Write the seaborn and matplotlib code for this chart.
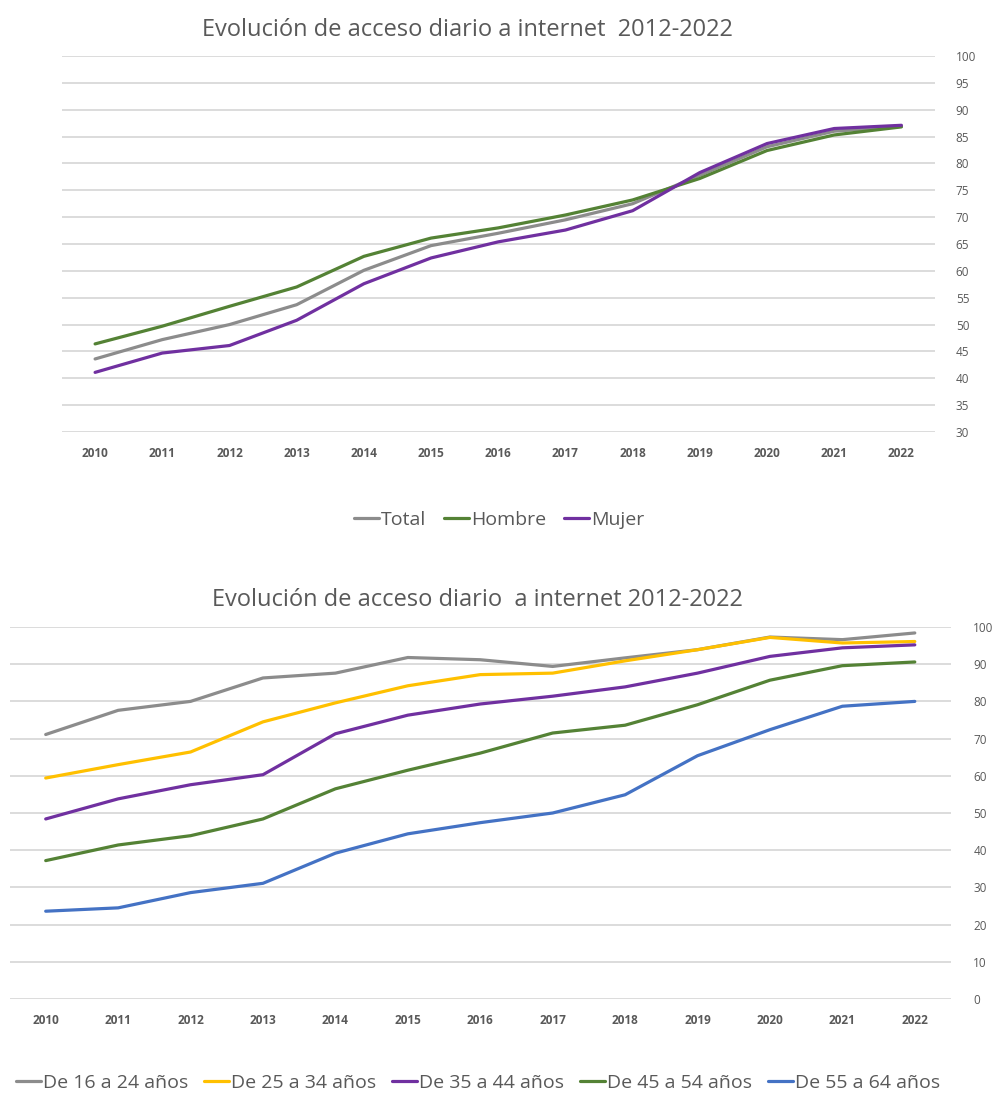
import pandas as pd
import numpy as np
import matplotlib
matplotlib.use("Agg")
import matplotlib.pyplot as plt
import seaborn as sns

# Values
years = list(range(2010, 2023))

total = [43.6, 47.2, 50.0, 53.7, 60.1, 64.7, 67.0, 69.5, 72.5, 77.8, 83.1, 86.0, 86.9]
hombre = [46.4, 49.7, 53.4, 57.0, 62.7, 66.1, 68.0, 70.4, 73.2, 77.2, 82.4, 85.3, 86.8]
mujer = [41.1, 44.7, 46.1, 50.8, 57.6, 62.4, 65.4, 67.6, 71.2, 78.3, 83.7, 86.5, 87.1]

edad_16_24 = [71.1, 77.6, 80.0, 86.3, 87.6, 91.8, 91.2, 89.4, 91.7, 93.9, 97.3, 96.6, 98.4]
edad_25_34 = [59.4, 63.0, 66.4, 74.5, 79.6, 84.2, 87.2, 87.6, 90.9, 93.9, 97.2, 95.7, 96.1]
edad_35_44 = [48.4, 53.8, 57.6, 60.3, 71.3, 76.3, 79.3, 81.4, 83.9, 87.6, 92.1, 94.4, 95.2]
edad_45_54 = [37.2, 41.4, 43.9, 48.4, 56.5, 61.5, 66.1, 71.5, 73.6, 79.1, 85.7, 89.6, 90.6]
edad_55_64 = [23.6, 24.5, 28.6, 31.1, 39.2, 44.4, 47.4, 50.0, 54.9, 65.4, 72.4, 78.7, 80.0]

sexo_labels = ["Total", "Hombre", "Mujer"]
edad_labels = ["De 16 a 24 años", "De 25 a 34 años", "De 35 a 44 años",
               "De 45 a 54 años", "De 55 a 64 años"]

sexo_colors = ["#8C8C8C", "#548235", "#7030A0"]
edad_colors = ["#8C8C8C", "#FFC000", "#7030A0", "#548235", "#4472C4"]

df_sexo = pd.DataFrame({"Año": years * 3,
                        "Valor": total + hombre + mujer,
                        "Serie": np.repeat(sexo_labels, len(years))})
df_edad = pd.DataFrame({"Año": years * 5,
                        "Valor": edad_16_24 + edad_25_34 + edad_35_44 + edad_45_54 + edad_55_64,
                        "Serie": np.repeat(edad_labels, len(years))})

sns.set_theme(style="white")
plt.rcParams["font.family"] = ["Open Sans", "DejaVu Sans"]

W, H = 994, 1094
fig = plt.figure(figsize=(W / 100, H / 100), dpi=100)
txt = "#595959"
grid = "#D9D9D9"


def px_axes(x0, y0, x1, y1):
    return fig.add_axes([x0 / W, 1 - y1 / H, (x1 - x0) / W, (y1 - y0) / H])


def style(ax, yticks, ylim, pad):
    ax.set_xlim(2009.5, 2022.5)
    ax.set_ylim(*ylim)
    ax.set_xticks(years)
    ax.set_xticklabels([str(y) for y in years], fontsize=8.5, fontweight="bold", color=txt)
    ax.set_yticks(yticks)
    ax.yaxis.tick_right()
    ax.tick_params(axis="y", length=0, pad=pad, labelsize=8.5, labelcolor=txt)
    ax.tick_params(axis="x", length=0, pad=11)
    for t in ax.get_yticklabels():
        t.set_horizontalalignment("left")
    for s in ax.spines.values():
        s.set_visible(False)
    ax.grid(axis="y", color=grid, linewidth=1.3)
    ax.grid(axis="x", visible=False)
    ax.set_axisbelow(True)
    ax.set_xlabel("")
    ax.set_ylabel("")


# --- Top chart ---
ax1 = px_axes(61.5, 56, 935, 432)
sns.lineplot(data=df_sexo, x="Año", y="Valor", hue="Serie", hue_order=sexo_labels,
             palette=sexo_colors, linewidth=2.3, ax=ax1, legend=False)
style(ax1, range(30, 101, 5), (30, 100), 15)
fig.text(467 / W, 1 - 30 / H, "Evolución de acceso diario a internet  2012-2022",
         ha="center", va="center", fontsize=17, color=txt)
h1 = [plt.Line2D([], [], color=c, linewidth=2.3) for c in sexo_colors]
fig.legend(h1, sexo_labels, loc="center", bbox_to_anchor=(499 / W, 1 - 520 / H),
           ncol=3, frameon=False, fontsize=14, labelcolor=txt,
           handlelength=1.3, handletextpad=0.1, columnspacing=0.9)

# --- Bottom chart ---
ax2 = px_axes(9.5, 627, 951, 999)
sns.lineplot(data=df_edad, x="Año", y="Valor", hue="Serie", hue_order=edad_labels,
             palette=edad_colors, linewidth=2.3, ax=ax2, legend=False)
style(ax2, range(0, 101, 10), (0, 100), 16)
fig.text(477 / W, 1 - 600 / H, "Evolución de acceso diario  a internet 2012-2022",
         ha="center", va="center", fontsize=17, color=txt)
h2 = [plt.Line2D([], [], color=c, linewidth=2.3) for c in edad_colors]
fig.legend(h2, edad_labels, loc="center", bbox_to_anchor=(478 / W, 1 - 1083 / H),
           ncol=5, frameon=False, fontsize=14, labelcolor=txt,
           handlelength=1.3, handletextpad=0.1, columnspacing=0.8)

fig.savefig("out.png", dpi=100, facecolor="white")
